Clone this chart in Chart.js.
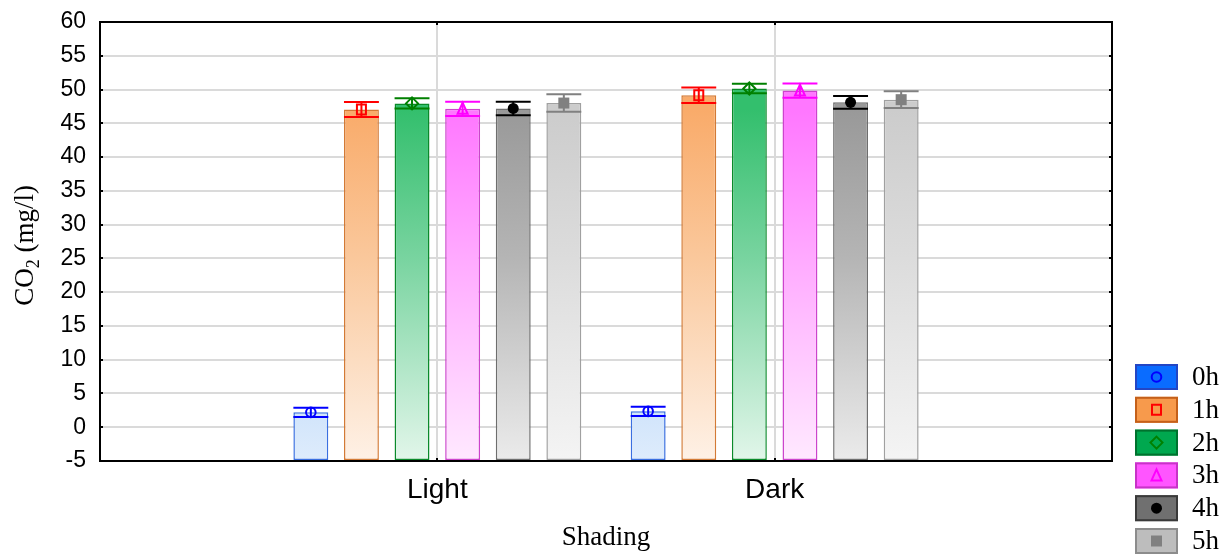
<!DOCTYPE html>
<html>
<head>
<meta charset="utf-8">
<title>CO2 by shading</title>
<script src="https://cdn.jsdelivr.net/npm/chart.js@4/dist/chart.umd.min.js"></script>
<style>
  html, body { margin: 0; padding: 0; background: #ffffff; }
  canvas { display: block; }
</style>
</head>
<body>
<canvas id="chart" width="1229" height="554"></canvas>
<script>
// CO2 concentration (mg/l) by shading treatment and sampling time, mean ± error
const categories = ['Light', 'Dark'];
const seriesNames = ['0h', '1h', '2h', '3h', '4h', '5h'];

// each pair is [Light, Dark]
const mean0h = [2.2, 2.35];
const err0h  = [0.7, 0.7];
const mean1h = [47.05, 49.15];
const err1h  = [1.1, 1.15];
const mean2h = [47.95, 50.15];
const err2h  = [0.75, 0.7];
const mean3h = [47.15, 49.85];
const err3h  = [1.05, 1.05];
const mean4h = [47.2, 48.1];
const err4h  = [1.0, 0.95];
const mean5h = [48.0, 48.5];
const err5h  = [1.3, 1.25];

const yTickValues = [-5, 0, 5, 10, 15, 20, 25, 30, 35, 40, 45, 50, 55, 60];

const seriesMeans = [mean0h, mean1h, mean2h, mean3h, mean4h, mean5h];
const seriesErrors = [err0h, err1h, err2h, err3h, err4h, err5h];

// ---- styling ----
const SANS = '"Liberation Sans", Arial, sans-serif';
const SERIF = '"Liberation Serif", "Times New Roman", serif';

// vertical fill ramps (stop position from top of plot, colour)
const barRamps = [
  [[0.2, '#7fb6f4'], [0.54, '#a9cdf8'], [1, '#deecfc']],
  [[0.2, '#f9ab6a'], [0.54, '#fac89c'], [1, '#fef1e6']],
  [[0.2, '#33bf6d'], [0.54, '#79d4a0'], [1, '#e2f6ea']],
  [[0.2, '#ff77ff'], [0.54, '#ffaaff'], [1, '#ffe9ff']],
  [[0.2, '#999999'], [0.54, '#b5b5b5'], [1, '#ebebeb']],
  [[0.2, '#cccccc'], [0.54, '#dcdcdc'], [1, '#f4f4f4']]
];
const barBorders = ['#3a6fe0', '#d37a35', '#0a8a2a', '#cc44cc', '#6e6e6e', '#a0a0a0'];
const markerColors = ['#0000ff', '#ff0000', '#008000', '#ff00ff', '#000000', '#808080'];
const markerKinds = ['circle', 'square', 'diamond', 'triangle', 'dot', 'block'];
const legendFills = ['#0a6cff', '#f79a4c', '#00a84f', '#ff55ff', '#707070', '#bdbdbd'];
const legendEdges = ['#2346c4', '#c4601a', '#00722e', '#c733c7', '#3a3a3a', '#8c8c8c'];

const rampCache = {};
function barFill(index) {
  return (ctx) => {
    const area = ctx.chart.chartArea;
    if (!area) return barRamps[index][1][1];
    const key = index + ':' + area.top + ':' + area.bottom;
    if (!rampCache[key]) {
      const g = ctx.chart.ctx.createLinearGradient(0, area.top, 0, area.bottom);
      barRamps[index].forEach(([p, c]) => g.addColorStop(p, c));
      rampCache[key] = g;
    }
    return rampCache[key];
  };
}

function drawMarker(ctx, kind, x, y, color) {
  ctx.save();
  ctx.strokeStyle = color;
  ctx.fillStyle = color;
  ctx.lineWidth = 2;
  ctx.beginPath();
  switch (kind) {
    case 'circle':
      ctx.arc(x, y, 4.8, 0, Math.PI * 2);
      ctx.stroke();
      break;
    case 'square':
      ctx.rect(x - 4.5, y - 5, 9, 10);
      ctx.stroke();
      break;
    case 'diamond':
      ctx.moveTo(x, y - 6);
      ctx.lineTo(x + 6, y);
      ctx.lineTo(x, y + 6);
      ctx.lineTo(x - 6, y);
      ctx.closePath();
      ctx.stroke();
      break;
    case 'triangle':
      ctx.moveTo(x, y - 6);
      ctx.lineTo(x + 5, y + 5);
      ctx.lineTo(x - 5, y + 5);
      ctx.closePath();
      ctx.stroke();
      break;
    case 'dot':
      ctx.arc(x, y, 5.5, 0, Math.PI * 2);
      ctx.fill();
      break;
    case 'block':
      ctx.rect(x - 5.5, y - 5.5, 11, 11);
      ctx.fill();
      break;
  }
  ctx.restore();
}

// whiskers and mean markers on top of the bars
const errorBarPlugin = {
  id: 'errorBars',
  afterDatasetsDraw(chart) {
    const ctx = chart.ctx;
    const yScale = chart.scales.y;
    chart.data.datasets.forEach((ds, di) => {
      const meta = chart.getDatasetMeta(di);
      if (meta.hidden) return;
      meta.data.forEach((bar, i) => {
        const m = ds.data[i];
        if (m == null) return;
        const e = ds.errors[i];
        const { x, width } = bar.getProps(['x', 'width'], true);
        const yHi = yScale.getPixelForValue(m + e);
        const yLo = yScale.getPixelForValue(m - e);
        const yM = yScale.getPixelForValue(m);
        const half = width / 2;
        const color = markerColors[di];
        ctx.save();
        ctx.strokeStyle = color;
        ctx.lineWidth = 2;
        ctx.beginPath();
        ctx.moveTo(x - half, yHi); ctx.lineTo(x + half, yHi);
        ctx.moveTo(x - half, yLo); ctx.lineTo(x + half, yLo);
        ctx.moveTo(x, yHi); ctx.lineTo(x, yLo);
        ctx.stroke();
        ctx.restore();
        drawMarker(ctx, markerKinds[di], x, yM, color);
      });
    });
  }
};

// plot frame, inward tick marks, rotated y title with subscript, legend
const framePlugin = {
  id: 'frame',
  afterDraw(chart) {
    const ctx = chart.ctx;
    const a = chart.chartArea;
    const xs = chart.scales.x, ys = chart.scales.y;
    ctx.save();
    ctx.strokeStyle = '#000000';
    ctx.lineWidth = 2;
    ctx.strokeRect(a.left, a.top, a.right - a.left, a.bottom - a.top);
    ctx.beginPath();
    ys.ticks.forEach(t => {
      const py = Math.round(ys.getPixelForValue(t.value));
      ctx.moveTo(a.left, py); ctx.lineTo(a.left + 3, py);
      ctx.moveTo(a.right, py); ctx.lineTo(a.right - 3, py);
    });
    categories.forEach(c => {
      const px = Math.round(xs.getPixelForValue(xs.getLabels().indexOf(c)));
      ctx.moveTo(px, a.bottom); ctx.lineTo(px, a.bottom - 3);
      ctx.moveTo(px, a.top); ctx.lineTo(px, a.top + 3);
    });
    ctx.stroke();

    // y axis title: CO2 (mg/l)
    const big = '27px ' + SERIF, small = '18px ' + SERIF;
    ctx.fillStyle = '#000000';
    ctx.textBaseline = 'alphabetic';
    ctx.font = big;
    const w1 = ctx.measureText('CO').width;
    const w3 = ctx.measureText(' (mg/l)').width;
    ctx.font = small;
    const w2 = ctx.measureText('2').width;
    const total = w1 + w2 + w3;
    ctx.translate(33, (a.top + a.bottom) / 2 + 4);
    ctx.rotate(-Math.PI / 2);
    let tx = -total / 2;
    ctx.font = big;
    ctx.fillText('CO', tx, 0); tx += w1;
    ctx.font = small;
    ctx.fillText('2', tx, 6); tx += w2;
    ctx.font = big;
    ctx.fillText(' (mg/l)', tx, 0);
    ctx.restore();

    // legend
    ctx.save();
    const lx = a.right + 23, ly = 364, bw = 43, bh = 26, step = 32.8;
    seriesNames.forEach((name, i) => {
      const top = ly + i * step;
      ctx.fillStyle = legendFills[i];
      ctx.fillRect(lx, top, bw, bh);
      ctx.strokeStyle = legendEdges[i];
      ctx.lineWidth = 2;
      ctx.strokeRect(lx + 1, top + 1, bw - 2, bh - 2);
      drawMarker(ctx, markerKinds[i], lx + bw / 2, top + bh / 2, markerColors[i]);
      ctx.fillStyle = '#000000';
      ctx.font = '27px ' + SERIF;
      ctx.textBaseline = 'middle';
      ctx.textAlign = 'left';
      ctx.fillText(name, lx + 57, top + bh / 2 + 1);
    });
    ctx.restore();
  }
};

const xLabels = ['', ...categories, ''];

const datasets = seriesNames.map((name, i) => ({
  label: name,
  data: [null, ...seriesMeans[i], null],
  errors: [null, ...seriesErrors[i], null],
  base: -5,
  backgroundColor: barFill(i),
  borderColor: barBorders[i],
  borderWidth: 1.5,
  borderSkipped: false,
  categoryPercentage: 0.9,
  barPercentage: 0.69
}));

new Chart(document.getElementById('chart'), {
  type: 'bar',
  data: { labels: xLabels, datasets },
  plugins: [errorBarPlugin, framePlugin],
  options: {
    responsive: false,
    animation: false,
    devicePixelRatio: 1,
    layout: { padding: { left: 0, right: 117, top: 22, bottom: 0 } },
    plugins: { legend: { display: false }, tooltip: { enabled: false } },
    scales: {
      x: {
        type: 'category',
        offset: false,
        grid: {
          offset: false,
          color: (c) => (c.index === 0 || c.index === xLabels.length - 1) ? 'rgba(0,0,0,0)' : '#dadada',
          lineWidth: 2,
          drawTicks: false
        },
        border: { display: false },
        ticks: {
          font: { family: SANS, size: 28 },
          color: '#000000',
          padding: 12,
          maxRotation: 0,
          autoSkip: false
        },
        title: {
          display: true,
          text: 'Shading',
          font: { family: SERIF, size: 27 },
          color: '#000000',
          padding: { top: 0, bottom: 0 }
        },
        afterFit: (s) => { s.height = 93; s.paddingLeft = 0; s.paddingRight = 0; }
      },
      y: {
        min: -5,
        max: 60,
        afterBuildTicks: (s) => { s.ticks = yTickValues.map(v => ({ value: v })); },
        grid: { color: '#dadada', lineWidth: 2, drawTicks: false },
        border: { display: false },
        ticks: {
          font: { family: SANS, size: 23 },
          color: '#000000',
          padding: 14
        },
        afterFit: (s) => { s.width = 100; s.paddingTop = 0; s.paddingBottom = 0; }
      }
    }
  }
});
</script>
</body>
</html>
